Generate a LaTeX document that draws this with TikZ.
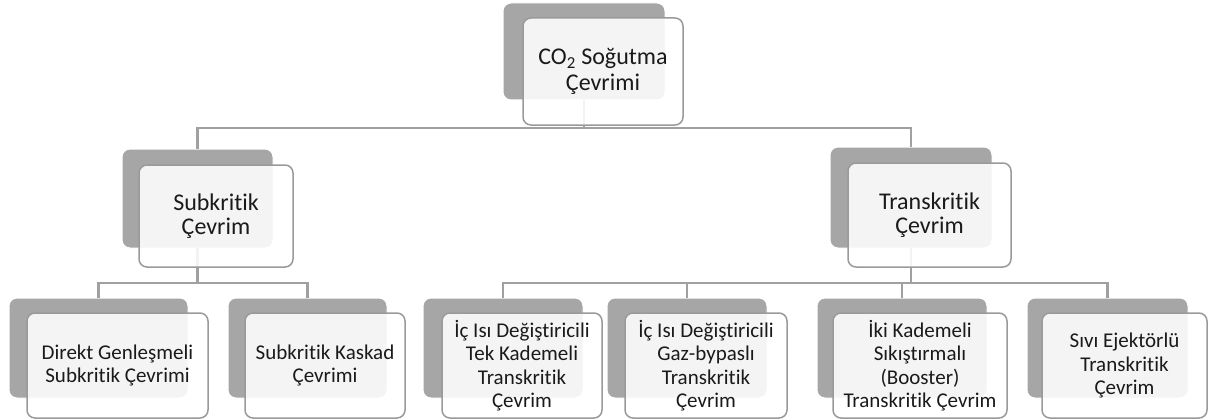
\documentclass[tikz,border=0pt]{standalone}
\usepackage{fontspec}
\setmainfont{Carlito}[Ligatures=NoCommon]
\definecolor{backgray}{HTML}{A6A6A6}
\definecolor{edgegray}{HTML}{9A9A9A}
\definecolor{linegray}{HTML}{A0A0A0}
\definecolor{textgray}{HTML}{1A1A1A}
\tikzset{
  backbox/.style={draw=white, line width=1pt, fill=backgray, rounded corners=8pt,
    inner sep=0pt, outer sep=0pt},
  frontbox/.style={draw=edgegray, line width=1.5pt, fill=white, fill opacity=0.88,
    text opacity=1, rounded corners=8pt, inner sep=0pt, outer sep=0pt,
    align=center, text=textgray, font=\fontsize{21}{23.5}\selectfont},
  midfont/.style={font=\fontsize{24}{23.5}\selectfont},
  topfont/.style={font=\fontsize{24}{25.5}\selectfont},
  link/.style={draw=linegray, line width=2.2pt},
}
% \tile{name}{cx}{cy}{width}{height}{style}{text}
\newcommand\tile[7]{%
  \node[#6, minimum width=#4pt, minimum height=#5pt] (#1) at (#2,#3) {#7};}
\begin{document}
\begin{tikzpicture}[x=1pt,y=-1pt]
\useasboundingbox (0,0) rectangle (1211,420);

% back plates
\tile{topb}{584}{51.5}{162}{97}{backbox}{}
\tile{subb}{197.5}{198.5}{151}{99}{backbox}{}
\tile{trab}{911}{197.5}{162}{101}{backbox}{}
\tile{b1b}{98.5}{348}{179}{100}{backbox}{}
\tile{b2b}{307.5}{348}{159}{100}{backbox}{}
\tile{b3b}{503}{348}{160}{100}{backbox}{}
\tile{b4b}{687}{348}{160}{100}{backbox}{}
\tile{b5b}{902}{348}{170}{100}{backbox}{}
\tile{b6b}{1107.5}{348}{161}{100}{backbox}{}

% connectors
\coordinate (j0) at ([yshift=-28pt]topb.south);
\coordinate (j1) at (subb.south |- 0,283);
\coordinate (j2) at (trab.south |- 0,283);
\draw[link] (topb.south) -- (j0) -| (subb.north);
\draw[link] (j0) -| (trab.north);
\draw[link] (subb.south) -- (j1) -| (b1b.north);
\draw[link] (j1) -| (b2b.north);
\draw[link] (trab.south) -- (j2) -| (b3b.north);
\draw[link] (j2) -| (b4b.north);
\draw[link] (j2) -| (b5b.north);
\draw[link] (j2) -| (b6b.north);

% front cards with labels
\tile{top}{603}{71.5}{160}{107}{frontbox,topfont}{CO\textsubscript{2} Soğutma\\Çevrimi}
\tile{sub}{216}{216}{154}{102}{frontbox,midfont}{Subkritik\\Çevrim}
\tile{tra}{929.5}{215}{163}{104}{frontbox,midfont}{Transkritik\\Çevrim}
\tile{b1}{117.5}{365.5}{181}{105}{frontbox}{Direkt Genleşmeli\\Subkritik Çevrimi}
\tile{b2}{325}{365.5}{160}{105}{frontbox}{Subkritik Kaskad\\Çevrimi}
\tile{b3}{522}{365.5}{160}{105}{frontbox}{İç Isı Değiştiricili\\Tek Kademeli\\Transkritik\\Çevrim}
\tile{b4}{706}{365.5}{162}{105}{frontbox}{İç Isı Değiştiricili\\Gaz-bypaslı\\Transkritik\\Çevrim}
\tile{b5}{920}{365.5}{174}{105}{frontbox}{İki Kademeli\\Sıkıştırmalı\\(Booster)\\Transkritik Çevrim}
\tile{b6}{1124.5}{365.5}{165}{105}{frontbox}{Sıvı Ejektörlü\\Transkritik\\Çevrim}
\end{tikzpicture}
\end{document}
